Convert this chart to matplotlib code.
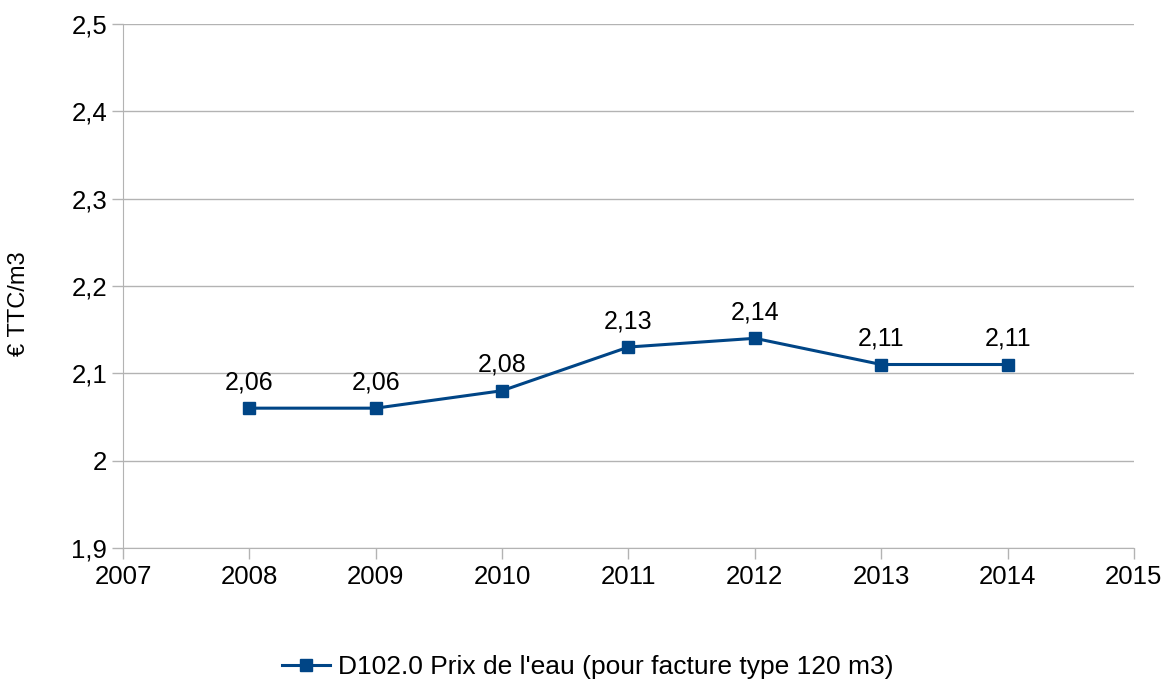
import matplotlib.pyplot as plt
from matplotlib.ticker import FuncFormatter, MultipleLocator

plt.rcParams['font.family'] = ['Liberation Sans', 'DejaVu Sans']

years = [2008, 2009, 2010, 2011, 2012, 2013, 2014]
prices = [2.06, 2.06, 2.08, 2.13, 2.14, 2.11, 2.11]
series_name = "D102.0 Prix de l'eau (pour facture type 120 m3)"

blue = '#004586'
grid = '#b3b3b3'


def comma(v, pos=None):
    s = f"{v:.2f}".rstrip('0').rstrip('.')
    return s.replace('.', ',')


fig = plt.figure(figsize=(11.66, 6.84), dpi=100)
ax = fig.add_axes([0.1055, 0.199, 0.867, 0.766])

ax.plot(years, prices, color=blue, lw=2.2, marker='s', markersize=8.5,
        label=series_name)
for x, y in zip(years, prices):
    ax.annotate(comma(y), (x, y), xytext=(0, 13.5), textcoords='offset points',
                ha='center', va='baseline', fontsize=18)

ax.set_xlim(2007, 2015)
ax.set_ylim(1.9, 2.5)
ax.xaxis.set_major_locator(MultipleLocator(1))
ax.yaxis.set_major_locator(MultipleLocator(0.1))
ax.yaxis.set_major_formatter(FuncFormatter(comma))
ax.grid(axis='y', color=grid, lw=1)
ax.set_axisbelow(True)

for side in ['top', 'right']:
    ax.spines[side].set_visible(False)
for side in ['left', 'bottom']:
    ax.spines[side].set_color(grid)
ax.tick_params(axis='both', colors=grid, length=8, width=1, labelcolor='black',
               labelsize=18.5)
ax.tick_params(axis='x', pad=4)
ax.set_ylabel('€ TTC/m3', fontsize=17)
ax.yaxis.set_label_coords(-0.092, 0.467)

fig.legend(loc='center', bbox_to_anchor=(0.504, 0.025), frameon=False,
           fontsize=19, handlelength=1.8, handletextpad=0.3)

fig.savefig('out.png', dpi=100)
